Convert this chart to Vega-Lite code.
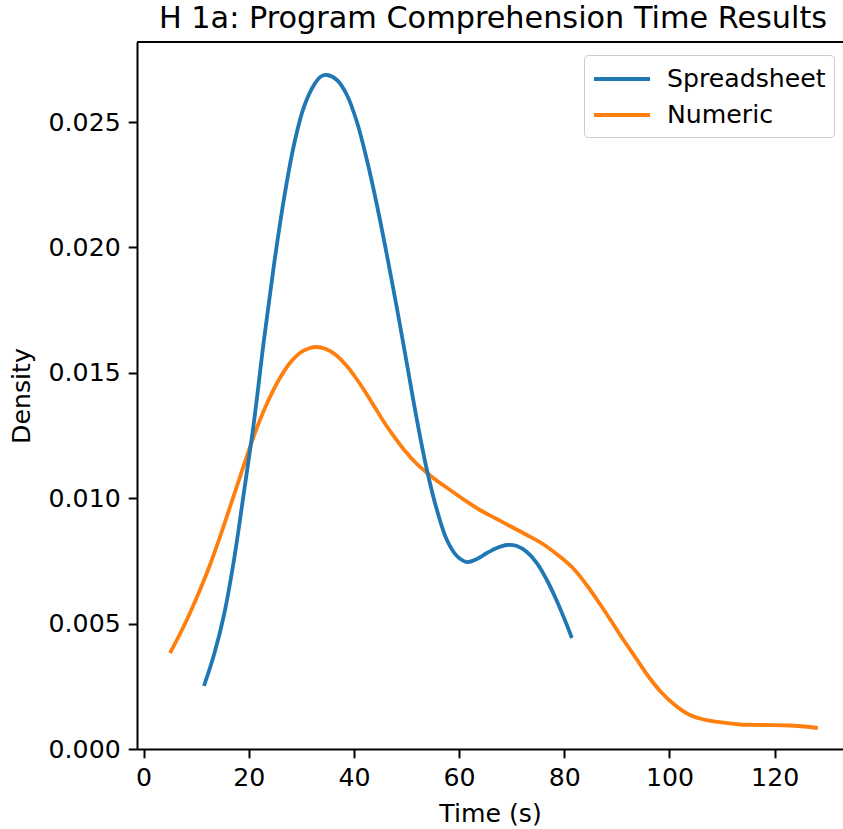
{
  "$schema": "https://vega.github.io/schema/vega-lite/v6.json",
  "width": 706,
  "height": 707,
  "autosize": {"type": "none"},
  "padding": {"left": 137, "top": 42, "right": 0, "bottom": 80},
  "background": "white",
  "config": {
    "view": {"stroke": null},
    "font": "DejaVu Sans",
    "axis": {
      "labelFont": "DejaVu Sans",
      "titleFont": "DejaVu Sans",
      "labelFontSize": 25.2,
      "titleFontSize": 25.2,
      "labelColor": "black",
      "titleColor": "black",
      "titleFontWeight": "normal",
      "domainColor": "black",
      "domainWidth": 2,
      "tickColor": "black",
      "tickWidth": 2,
      "tickSize": 8.8,
      "grid": false
    }
  },
  "title": {
    "text": "H 1a: Program Comprehension Time Results",
    "font": "DejaVu Sans",
    "fontSize": 30.3,
    "fontWeight": "normal",
    "color": "black",
    "anchor": "middle",
    "offset": 7,
    "dx": 3
  },
  "layer": [
    {
      "data": {
        "values": [
          {"group": "Numeric", "time": 5.02, "density": 0.003828},
          {"group": "Numeric", "time": 6.92, "density": 0.004585},
          {"group": "Numeric", "time": 8.82, "density": 0.005423},
          {"group": "Numeric", "time": 10.72, "density": 0.00634},
          {"group": "Numeric", "time": 12.62, "density": 0.007337},
          {"group": "Numeric", "time": 14.52, "density": 0.008453},
          {"group": "Numeric", "time": 16.43, "density": 0.009649},
          {"group": "Numeric", "time": 18.33, "density": 0.010845},
          {"group": "Numeric", "time": 20.23, "density": 0.012041},
          {"group": "Numeric", "time": 22.13, "density": 0.013118},
          {"group": "Numeric", "time": 24.03, "density": 0.014035},
          {"group": "Numeric", "time": 25.93, "density": 0.014793},
          {"group": "Numeric", "time": 27.83, "density": 0.015391},
          {"group": "Numeric", "time": 29.73, "density": 0.015789},
          {"group": "Numeric", "time": 31.63, "density": 0.015989},
          {"group": "Numeric", "time": 32.78, "density": 0.016029},
          {"group": "Numeric", "time": 34.68, "density": 0.015949},
          {"group": "Numeric", "time": 36.58, "density": 0.01571},
          {"group": "Numeric", "time": 38.48, "density": 0.015311},
          {"group": "Numeric", "time": 40.38, "density": 0.014793},
          {"group": "Numeric", "time": 42.28, "density": 0.014195},
          {"group": "Numeric", "time": 44.18, "density": 0.013557},
          {"group": "Numeric", "time": 46.08, "density": 0.012919},
          {"group": "Numeric", "time": 47.98, "density": 0.01236},
          {"group": "Numeric", "time": 49.89, "density": 0.011842},
          {"group": "Numeric", "time": 51.79, "density": 0.011404},
          {"group": "Numeric", "time": 53.69, "density": 0.011045},
          {"group": "Numeric", "time": 55.59, "density": 0.010726},
          {"group": "Numeric", "time": 57.49, "density": 0.010447},
          {"group": "Numeric", "time": 59.39, "density": 0.010167},
          {"group": "Numeric", "time": 61.29, "density": 0.009888},
          {"group": "Numeric", "time": 63.95, "density": 0.00953},
          {"group": "Numeric", "time": 66.81, "density": 0.009211},
          {"group": "Numeric", "time": 69.66, "density": 0.008892},
          {"group": "Numeric", "time": 72.89, "density": 0.008533},
          {"group": "Numeric", "time": 75.93, "density": 0.008174},
          {"group": "Numeric", "time": 78.78, "density": 0.007735},
          {"group": "Numeric", "time": 81.63, "density": 0.007217},
          {"group": "Numeric", "time": 84.11, "density": 0.006579},
          {"group": "Numeric", "time": 86.39, "density": 0.005901},
          {"group": "Numeric", "time": 88.67, "density": 0.005183},
          {"group": "Numeric", "time": 91.14, "density": 0.004386},
          {"group": "Numeric", "time": 93.61, "density": 0.003628},
          {"group": "Numeric", "time": 96.08, "density": 0.002871},
          {"group": "Numeric", "time": 98.56, "density": 0.002233},
          {"group": "Numeric", "time": 101.03, "density": 0.001754},
          {"group": "Numeric", "time": 103.5, "density": 0.001396},
          {"group": "Numeric", "time": 106.16, "density": 0.001196},
          {"group": "Numeric", "time": 109.2, "density": 0.001077},
          {"group": "Numeric", "time": 113.38, "density": 0.000977},
          {"group": "Numeric", "time": 118.14, "density": 0.000957},
          {"group": "Numeric", "time": 122.89, "density": 0.000937},
          {"group": "Numeric", "time": 125.74, "density": 0.000897},
          {"group": "Numeric", "time": 128.21, "density": 0.000837},
          {"group": "Spreadsheet", "time": 11.48, "density": 0.002512},
          {"group": "Spreadsheet", "time": 13.38, "density": 0.003748},
          {"group": "Spreadsheet", "time": 15.29, "density": 0.005343},
          {"group": "Spreadsheet", "time": 17.19, "density": 0.007536},
          {"group": "Spreadsheet", "time": 19.09, "density": 0.010247},
          {"group": "Spreadsheet", "time": 20.99, "density": 0.013038},
          {"group": "Spreadsheet", "time": 22.89, "density": 0.016308},
          {"group": "Spreadsheet", "time": 24.79, "density": 0.019298},
          {"group": "Spreadsheet", "time": 26.69, "density": 0.02193},
          {"group": "Spreadsheet", "time": 28.59, "density": 0.024083},
          {"group": "Spreadsheet", "time": 30.49, "density": 0.025598},
          {"group": "Spreadsheet", "time": 32.4, "density": 0.026475},
          {"group": "Spreadsheet", "time": 33.73, "density": 0.026814},
          {"group": "Spreadsheet", "time": 34.87, "density": 0.026874},
          {"group": "Spreadsheet", "time": 36.77, "density": 0.026675},
          {"group": "Spreadsheet", "time": 38.67, "density": 0.026077},
          {"group": "Spreadsheet", "time": 40.57, "density": 0.025},
          {"group": "Spreadsheet", "time": 42.47, "density": 0.023485},
          {"group": "Spreadsheet", "time": 44.37, "density": 0.021691},
          {"group": "Spreadsheet", "time": 46.27, "density": 0.019697},
          {"group": "Spreadsheet", "time": 48.17, "density": 0.017584},
          {"group": "Spreadsheet", "time": 50.08, "density": 0.015351},
          {"group": "Spreadsheet", "time": 51.98, "density": 0.013118},
          {"group": "Spreadsheet", "time": 53.88, "density": 0.011124},
          {"group": "Spreadsheet", "time": 55.78, "density": 0.00953},
          {"group": "Spreadsheet", "time": 57.68, "density": 0.008333},
          {"group": "Spreadsheet", "time": 59.58, "density": 0.007695},
          {"group": "Spreadsheet", "time": 61.48, "density": 0.007456},
          {"group": "Spreadsheet", "time": 63.38, "density": 0.007576},
          {"group": "Spreadsheet", "time": 65.29, "density": 0.007815},
          {"group": "Spreadsheet", "time": 67.19, "density": 0.008014},
          {"group": "Spreadsheet", "time": 69.09, "density": 0.008134},
          {"group": "Spreadsheet", "time": 70.99, "density": 0.008094},
          {"group": "Spreadsheet", "time": 72.89, "density": 0.007855},
          {"group": "Spreadsheet", "time": 74.79, "density": 0.007416},
          {"group": "Spreadsheet", "time": 76.69, "density": 0.006738},
          {"group": "Spreadsheet", "time": 78.59, "density": 0.005901},
          {"group": "Spreadsheet", "time": 80.49, "density": 0.004944},
          {"group": "Spreadsheet", "time": 81.44, "density": 0.004426}
        ]
      },
      "mark": {"type": "line", "strokeWidth": 3.8, "interpolate": "catmull-rom", "strokeCap": "butt"},
      "encoding": {
        "x": {
          "field": "time",
          "type": "quantitative",
          "title": "Time (s)",
          "scale": {"domain": [-1.25, 133.0], "nice": false, "zero": false},
          "axis": {"values": [0, 20, 40, 60, 80, 100, 120], "labelPadding": 8, "titlePadding": 10, "labelFlush": false}
        },
        "y": {
          "field": "density",
          "type": "quantitative",
          "title": "Density",
          "scale": {"domain": [0, 0.02819], "nice": false},
          "axis": {"values": [0, 0.005, 0.01, 0.015, 0.02, 0.025], "format": ".3f", "labelPadding": 8, "titlePadding": 14, "labelFlush": false}
        },
        "color": {
          "field": "group",
          "type": "nominal",
          "scale": {"domain": ["Spreadsheet", "Numeric"], "range": ["#1f77b4", "#ff7f0e"]},
          "legend": {
            "title": null,
            "orient": "none",
            "legendX": 447,
            "legendY": 13,
            "symbolType": "M-1,0H3",
            "symbolSize": 784,
            "symbolStrokeWidth": 3.8,
            "symbolFillColor": "transparent",
            "labelFont": "DejaVu Sans",
            "labelFontSize": 25.2,
            "labelColor": "black",
            "labelOffset": 43,
            "rowPadding": 6,
            "padding": 8,
            "fillColor": "white",
            "strokeColor": "#cccccc",
            "cornerRadius": 4
          }
        }
      }
    },
    {
      "data": {"values": [{"top": 0.02819}]},
      "mark": {"type": "rule", "strokeWidth": 2, "color": "black"},
      "encoding": {"y": {"field": "top", "type": "quantitative"}}
    }
  ]
}
